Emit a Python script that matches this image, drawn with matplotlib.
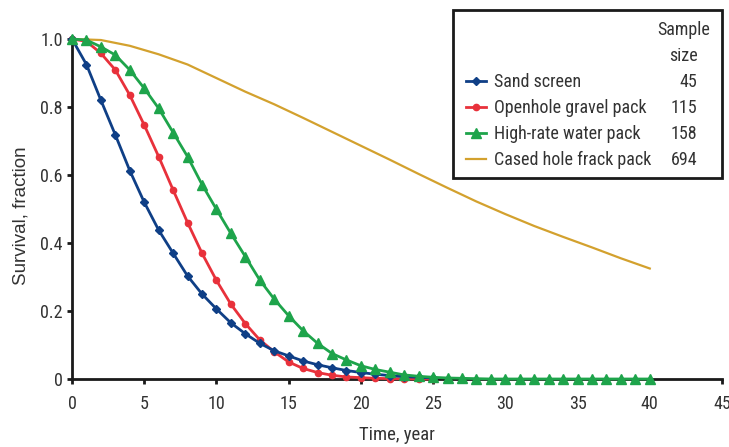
import matplotlib
matplotlib.use("Agg")
import matplotlib.pyplot as plt
from matplotlib.lines import Line2D
from matplotlib.patches import Rectangle
import numpy as np

plt.rcParams['font.family'] = ['Roboto Condensed', 'Archivo Narrow', 'DejaVu Sans']

# ---- data ----
years_short = list(range(0, 26))
sand_screen = [1.0, 0.925, 0.82, 0.718, 0.613, 0.52, 0.438, 0.37, 0.303, 0.25,
               0.206, 0.165, 0.133, 0.105, 0.083, 0.068, 0.053, 0.042, 0.033, 0.025,
               0.019, 0.014, 0.010, 0.007, 0.005, 0.003]
openhole_gp = [1.0, 0.993, 0.958, 0.909, 0.835, 0.747, 0.654, 0.556, 0.46, 0.37,
               0.29, 0.22, 0.163, 0.115, 0.08, 0.05, 0.031, 0.019, 0.011, 0.006,
               0.004, 0.002, 0.001, 0.0005, 0.0, 0.0]
years_long = list(range(0, 41))
highrate_wp = [1.0, 0.997, 0.977, 0.953, 0.909, 0.855, 0.796, 0.725, 0.654, 0.572,
               0.499, 0.428, 0.36, 0.291, 0.235, 0.186, 0.142, 0.105, 0.075, 0.056,
               0.039, 0.028, 0.02, 0.012, 0.008, 0.005, 0.003, 0.002, 0.001, 0.0,
               0.0, 0.0, 0.0, 0.0, 0.0, 0.0, 0.0, 0.0, 0.0, 0.0, 0.0]
years_cased = [0, 2, 4, 6, 8, 10, 12, 14, 16, 18, 20, 22, 24, 26, 28, 30, 32, 34, 36, 38, 40]
cased_fp = [1.0, 0.997, 0.98, 0.955, 0.925, 0.885, 0.845, 0.808, 0.768, 0.727,
            0.686, 0.645, 0.603, 0.562, 0.522, 0.485, 0.45, 0.418, 0.387, 0.355, 0.325]

labels = ["Sand screen", "Openhole gravel pack", "High-rate water pack", "Cased hole frack pack"]
sample_sizes = ["45", "115", "158", "694"]
xticks = [0, 5, 10, 15, 20, 25, 30, 35, 40, 45]
yticks = [0, 0.2, 0.4, 0.6, 0.8, 1.0]
yticklabels = ["0", "0.2", "0.4", "0.6", "0.8", "1.0"]

c_blue = "#0f3f86"
c_red = "#e8313b"
c_green = "#1ea44b"
c_gold = "#d3a12e"
txt = "#333333"
FS = 13

W, H = 729, 447
fig = plt.figure(figsize=(W / 100, H / 100), dpi=100)
ax = fig.add_axes([72 / W, 1 - 379 / H, 650 / W, 340 / H])

ax.plot(years_cased, cased_fp, color=c_gold, lw=1.6, clip_on=False, zorder=2)
l1, = ax.plot(years_short, sand_screen, color=c_blue, lw=2.0, marker="D", ms=4.2,
              clip_on=False, zorder=4)
l2, = ax.plot(years_short, openhole_gp, color=c_red, lw=2.0, marker="o", ms=4.5,
              clip_on=False, zorder=3)
l3, = ax.plot(years_long, highrate_wp, color=c_green, lw=2.0, marker="^", ms=6.5,
              clip_on=False, zorder=5)
l4 = Line2D([], [], color=c_gold, lw=1.6)

ax.set_xlim(0, 45)
ax.set_ylim(0, 1.0)
ax.set_xticks(xticks)
ax.set_xticklabels([str(x) for x in xticks])
ax.set_yticks(yticks)
ax.set_yticklabels(yticklabels)
for s in ["top", "right"]:
    ax.spines[s].set_visible(False)
for s in ["left", "bottom"]:
    ax.spines[s].set_linewidth(2.0)
    ax.spines[s].set_color("#1a1a1a")
ax.tick_params(axis="both", direction="out", length=3.5, width=2.0, color="#1a1a1a",
               labelsize=FS, labelcolor=txt)
ax.tick_params(axis="x", pad=8)
ax.tick_params(axis="y", pad=3)

fig.text(397 / W, 1 - 435 / H, "Time, year", ha="center", va="center",
         fontsize=13.5, color=txt)
fig.text(21 / W, 1 - 216 / H, "Survival, fraction", ha="center", va="center",
         rotation=90, fontsize=13.5, color=txt, family=["Liberation Sans", "DejaVu Sans"])

# legend box
fig.patches.append(Rectangle((453 / W, 1 - 178 / H), (722 - 453) / W, (178 - 10) / H,
                             transform=fig.transFigure, fill=False, lw=2.0,
                             edgecolor="#1a1a1a", zorder=10))
leg = fig.legend([l1, l2, l3, l4], labels, loc="upper left",
                 bbox_to_anchor=(466 / W, 1 - 73 / H), frameon=False,
                 fontsize=FS, handlelength=1.1, handletextpad=0.45,
                 labelspacing=0.44, borderpad=0, borderaxespad=0)
for t in leg.get_texts():
    t.set_color(txt)
fig.text(684 / W, 1 - 30 / H, "Sample", ha="center", va="center", fontsize=FS, color=txt)
fig.text(684 / W, 1 - 56 / H, "size", ha="center", va="center", fontsize=FS, color=txt)

fig.canvas.draw()
r = fig.canvas.get_renderer()
for t, n in zip(leg.get_texts(), sample_sizes):
    bb = t.get_window_extent(r)
    yc = (bb.y0 + bb.y1) / 2 / fig.bbox.height
    fig.text(697 / W, yc, n, ha="right", va="center", fontsize=FS, color=txt)

fig.savefig("out.png", dpi=100)
